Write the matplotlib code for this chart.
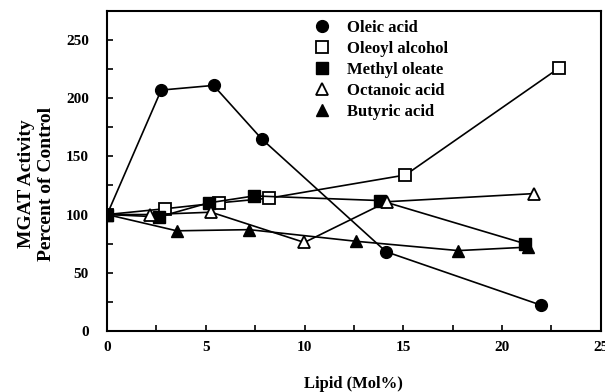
import matplotlib
matplotlib.use("Agg")
import matplotlib.pyplot as plt
from matplotlib.ticker import MultipleLocator

plt.rcParams['font.family'] = ['Liberation Serif', 'DejaVu Serif']
plt.rcParams['font.weight'] = 'bold'

# data (x = lipid mol%, y = percent of control)
oleic_x = [0, 2.74, 5.39, 7.83, 14.13, 21.99]
oleic_y = [100, 207, 211, 165, 68, 22]

oleoyl_x = [0, 2.94, 5.65, 8.18, 15.11, 22.89]
oleoyl_y = [100, 105, 110, 114, 134, 226]

methyl_x = [0, 2.64, 5.14, 7.45, 13.84, 21.15]
methyl_y = [100, 98, 110, 116, 112, 75]

octanoic_x = [0, 2.18, 5.27, 9.99, 14.18, 21.62]
octanoic_y = [100, 100, 102, 76, 111, 118]

butyric_x = [0, 3.53, 7.2, 12.61, 17.78, 21.33]
butyric_y = [100, 86, 87, 77, 69, 72]

fig = plt.figure(figsize=(6.05, 3.92), dpi=100)
ax = fig.add_axes([0.177, 0.156, 0.816, 0.816])

lw = 1.2
ax.plot(oleic_x, oleic_y, color='black', lw=lw, marker='o', ms=8.5,
        mfc='black', mec='black', label='Oleic acid', zorder=3)
ax.plot(oleoyl_x, oleoyl_y, color='black', lw=lw, marker='s', ms=8,
        mfc='white', mec='black', mew=1.3, label='Oleoyl alcohol', zorder=3)
ax.plot(methyl_x, methyl_y, color='black', lw=lw, marker='s', ms=8,
        mfc='black', mec='black', label='Methyl oleate', zorder=3)
ax.plot(octanoic_x, octanoic_y, color='black', lw=lw, marker='^', ms=8.5,
        mfc='white', mec='black', mew=1.3, label='Octanoic acid', zorder=3)
ax.plot(butyric_x, butyric_y, color='black', lw=lw, marker='^', ms=8.5,
        mfc='black', mec='black', label='Butyric acid', zorder=3)

ax.set_xlim(0, 25)
ax.set_ylim(0, 275)
ax.xaxis.set_major_locator(MultipleLocator(5))
ax.xaxis.set_minor_locator(MultipleLocator(2.5))
ax.yaxis.set_major_locator(MultipleLocator(50))
ax.yaxis.set_minor_locator(MultipleLocator(25))
ax.tick_params(which='both', direction='in', length=4, width=1.2,
               top=False, right=False, labelsize=11)
ax.tick_params(axis='x', pad=7)
ax.tick_params(axis='y', pad=13)
for s in ax.spines.values():
    s.set_linewidth(1.5)

ax.set_xlabel('Lipid (Mol%)', fontsize=12, fontweight='bold')
ax.xaxis.set_label_coords(0.5, -0.14)
ax.set_ylabel('MGAT Activity\nPercent of Control', fontsize=14,
              fontweight='bold')
ax.yaxis.set_label_coords(-0.106, 0.46)

leg = ax.legend(loc='upper center', bbox_to_anchor=(0.555, 1.018), frameon=False,
                fontsize=12, handlelength=1.0, handletextpad=1.0,
                labelspacing=0.3)
for line in leg.get_lines():
    line.set_linestyle('None')

fig.savefig('out.png', dpi=100)
